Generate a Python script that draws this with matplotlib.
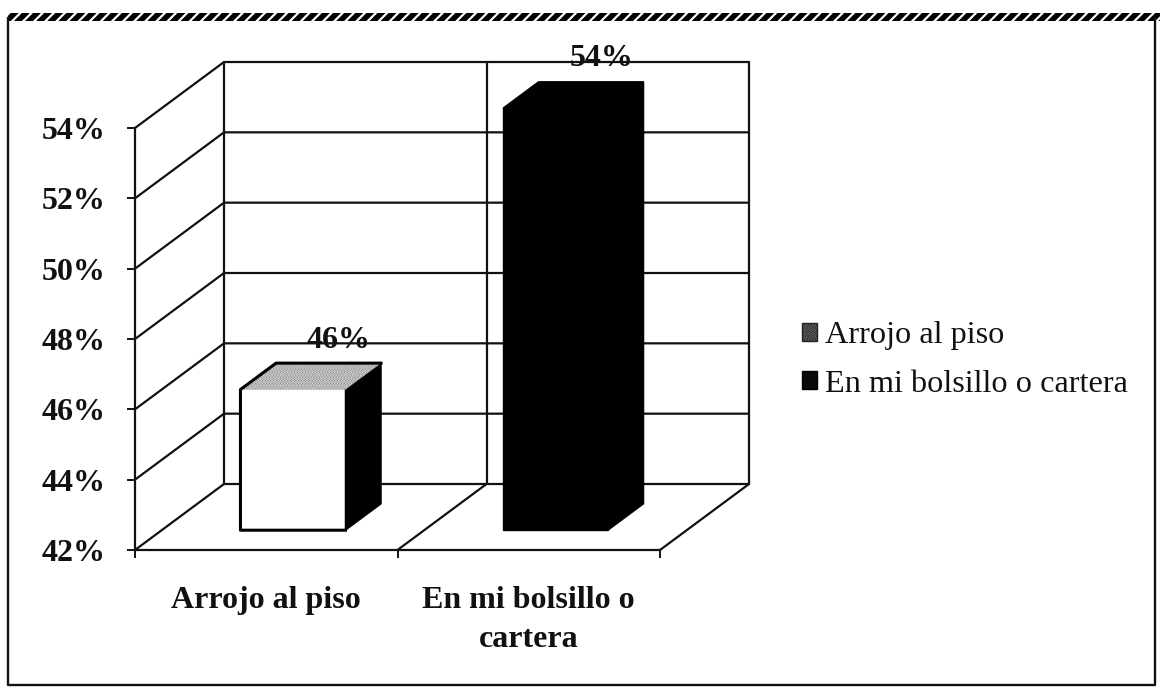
import matplotlib
matplotlib.use("Agg")
import matplotlib.pyplot as plt
from matplotlib.patches import Patch, Polygon, Rectangle

categories = ["Arrojo al piso", "En mi bolsillo o\ncartera"]
series_names = ["Arrojo al piso", "En mi bolsillo o cartera"]
values = [46, 54]
value_labels = ["46%", "54%"]
y_ticks = [42, 44, 46, 48, 50, 52, 54]
y_tick_labels = ["42%", "44%", "46%", "48%", "50%", "52%", "54%"]

W, H = 1160, 688
plt.rcParams["font.family"] = ["Liberation Serif", "DejaVu Serif"]
plt.rcParams["hatch.linewidth"] = 1.6

# fake 3d: depth is a shift up and right, in data units
DX = 89 / 262.5
DY = 66 / 35.17


def proj(x, v, t=0.0):
    return x + DX * t, v + DY * t


fig = plt.figure(figsize=(W / 100, H / 100), dpi=100, facecolor="white")

# outer frame, top edge is a black band with white slashes
bg = fig.add_axes([0, 0, 1, 1])
bg.set_xlim(0, W)
bg.set_ylim(H, 0)
bg.axis("off")
bg.plot([8, 8, 1155, 1155], [18, 685, 685, 18], color="#111111", lw=1.7)
bg.add_patch(Rectangle((8, 13), 1152, 8, fc="black", ec="white", lw=0, hatch="///"))

ax = fig.add_axes([135 / W, 1 - 550 / H, 525 / W, 422 / H])
ax.patch.set_alpha(0)
ax.set_xlim(0, 2)
ax.set_ylim(42, 54)
for side in ["top", "right"]:
    ax.spines[side].set_visible(False)
for side in ["left", "bottom"]:
    ax.spines[side].set_linewidth(1.6)
    ax.spines[side].set_color("#111111")

# walls and gridlines
line_kw = dict(color="#111111", lw=1.6, clip_on=False, zorder=1, solid_capstyle="round")
for v in y_ticks:
    x0, y0 = proj(0, v)
    x1, y1 = proj(0, v, 1)
    x2, y2 = proj(2, v, 1)
    ax.plot([x0, x1, x2], [y0, y1, y2], **line_kw)
for xv in [0, 1, 2]:
    xb, yb = proj(xv, 42, 1)
    xt, yt = proj(xv, 54, 1)
    ax.plot([xb, xt], [yb, yt], **line_kw)
for xv in [1, 2]:
    xb, yb = proj(xv, 42, 1)
    ax.plot([xv, xb], [42, yb], **line_kw)

# bars
T0, T1 = 0.3, 0.7
for i, v in enumerate(values):
    l, r = i + 0.3, i + 0.7
    front = [proj(l, 42, T0), proj(r, 42, T0), proj(r, v, T0), proj(l, v, T0)]
    side = [proj(r, 42, T0), proj(r, 42, T1), proj(r, v, T1), proj(r, v, T0)]
    top = [proj(l, v, T0), proj(r, v, T0), proj(r, v, T1), proj(l, v, T1)]
    if i == 0:
        ax.add_patch(Polygon(front, fc="white", ec="none", zorder=2, clip_on=False))
        ax.add_patch(Polygon(side, fc="black", ec="black", lw=1.0, zorder=2, clip_on=False))
        ax.add_patch(Polygon(top, fc="#777777", ec="#e8e8e8", lw=0, hatch="......",
                             zorder=2, clip_on=False))
        edge = [front[1], front[0], front[3], top[3], top[2]]
        ax.plot([p[0] for p in edge], [p[1] for p in edge], color="black", lw=2.2,
                clip_on=False, zorder=3)
    else:
        for pts in [front, side, top]:
            ax.add_patch(Polygon(pts, fc="black", ec="black", lw=1.0, zorder=2, clip_on=False))
    lx, ly = proj(i + 0.5, v, 0.5)
    ax.text(lx + 0.107, ly + 1.03, value_labels[i], ha="center", va="center", fontsize=23,
            fontweight="bold", color="#111111", zorder=4, clip_on=False)

# axes ticks
ax.set_yticks(y_ticks)
ax.set_yticklabels(y_tick_labels, fontsize=23, fontweight="bold", color="#111111")
ax.tick_params(axis="y", length=6, width=1.3, pad=15)
ax.set_xticks([0, 1, 2])
ax.set_xticklabels(["", "", ""])
ax.tick_params(axis="x", which="major", length=6, width=1.3)
ax.set_xticks([0.5, 1.5], minor=True)
ax.set_xticklabels(categories, minor=True, fontsize=23, fontweight="bold", color="#111111",
                   linespacing=1.45)
ax.tick_params(axis="x", which="minor", length=0, pad=26)

handles = [
    Patch(fc="#777777", ec="#222222", lw=1.0, hatch="......"),
    Patch(fc="#0a0a0a", ec="black"),
]
fig.legend(handles, series_names, loc="center left", bbox_to_anchor=(802 / W, 1 - 360 / H),
           frameon=False, fontsize=23.2, handlelength=0.47, handleheight=0.47,
           handletextpad=0.25, labelspacing=0.6, borderpad=0, borderaxespad=0,
           labelcolor="#111111")

fig.savefig("out.png", dpi=100, facecolor="white")
